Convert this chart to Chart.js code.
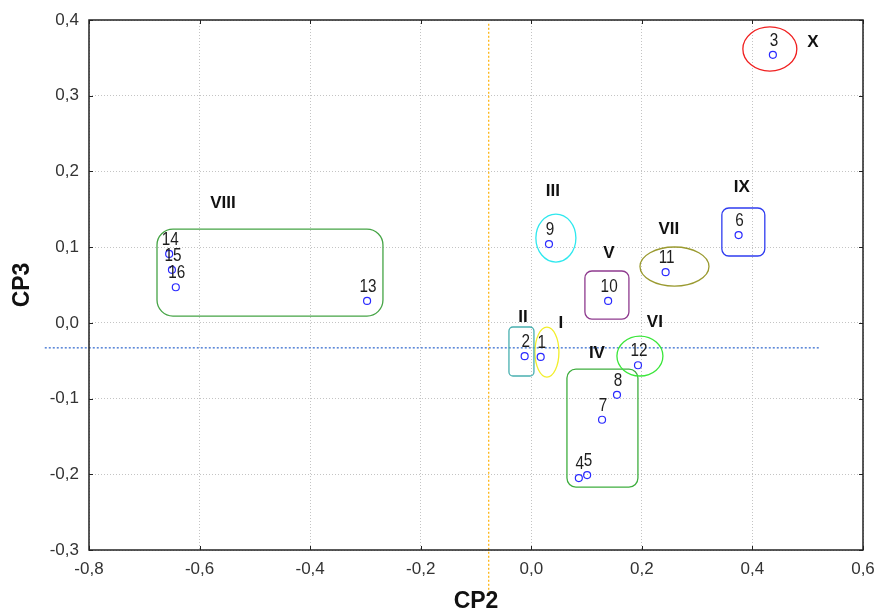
<!DOCTYPE html>
<html>
<head>
<meta charset="utf-8">
<title>CP2 x CP3</title>
<script src="https://cdn.jsdelivr.net/npm/chart.js@4/dist/chart.umd.min.js"></script>
<style>
  html, body { margin: 0; padding: 0; background: #ffffff; }
  #wrap { width: 877px; height: 613px; }
</style>
</head>
<body>
<div id="wrap"><canvas id="chart" width="877" height="613"></canvas></div>
<script>
// Sample numbers and their scores on the 2nd and 3rd principal components
const sampleIds = ['1','2','3','4','5','6','7','8','9','10','11','12','13','14','15','16'];
const cp2Scores = [0.017, -0.012, 0.437, 0.086, 0.101, 0.375, 0.128, 0.155, 0.032, 0.139, 0.243, 0.193, -0.297, -0.655, -0.650, -0.643];
const cp3Scores = [-0.045, -0.044, 0.354, -0.205, -0.201, 0.116, -0.128, -0.095, 0.104, 0.029, 0.067, -0.056, 0.029, 0.091, 0.070, 0.047];

// Axis ranges and tick steps
const xTicks = { min: -0.8, max: 0.6, step: 0.2 };
const yTicks = { min: -0.3, max: 0.4, step: 0.1 };

// Reference lines (mean of CP2, mean of CP3)
const meanCP2 = -0.077;
const meanCP3 = -0.033;

// Cluster outlines, in CP2/CP3 units
const groupOutlines = [
  { name: 'I',    shape: 'ellipse', cx: 0.0283, cy: -0.0386, rx: 0.0217, ry: 0.0330, color: '#f2ee2a', lx: 0.0536, ly: -0.0002 },
  { name: 'II',   shape: 'rect', x0: -0.0404, x1: 0.0048, y0: -0.0702, y1: -0.0055, r: 4, color: '#48b0b0', lx: -0.0150, ly: 0.0077 },
  { name: 'III',  shape: 'ellipse', cx: 0.0445, cy: 0.1120, rx: 0.0362, ry: 0.0317, color: '#2ee8ee', lx: 0.0391, ly: 0.1741 },
  { name: 'IV',   shape: 'rect', x0: 0.0645, x1: 0.1929, y0: -0.2169, y1: -0.0610, r: 9, color: '#3fae3f', lx: 0.1187, ly: -0.0399 },
  { name: 'V',    shape: 'rect', x0: 0.0970, x1: 0.1766, y0: 0.0050, y1: 0.0685, r: 7, color: '#8e3a8e', lx: 0.1404, ly: 0.0922 },
  { name: 'VI',   shape: 'ellipse', cx: 0.1965, cy: -0.0438, rx: 0.0416, ry: 0.0264, color: '#3ae63a', lx: 0.2236, ly: 0.0011 },
  { name: 'VII',  shape: 'ellipse', cx: 0.2590, cy: 0.0744, rx: 0.0624, ry: 0.0258, color: '#9a9a30', lx: 0.2489, ly: 0.1239 },
  { name: 'VIII', shape: 'rect', x0: -0.6770, x1: -0.2683, y0: 0.0090, y1: 0.1239, r: 16, color: '#45a445', lx: -0.5577, ly: 0.1583 },
  { name: 'IX',   shape: 'rect', x0: 0.3447, x1: 0.4224, y0: 0.0883, y1: 0.1517, r: 7, color: '#2f3cf0', lx: 0.3808, ly: 0.1794 },
  { name: 'X',    shape: 'ellipse', cx: 0.4315, cy: 0.3617, rx: 0.0488, ry: 0.0291, color: '#f02020', lx: 0.5093, ly: 0.3710 }
];

const points = sampleIds.map((id, i) => ({ x: cp2Scores[i], y: cp3Scores[i] }));
const fmt = v => v.toFixed(1).replace('.', ',').replace(/^-0,0$/, '0,0');

function roundRectPath(ctx, x, y, w, h, r) {
  r = Math.min(r, w / 2, h / 2);
  ctx.beginPath();
  ctx.moveTo(x + r, y);
  ctx.arcTo(x + w, y, x + w, y + h, r);
  ctx.arcTo(x + w, y + h, x, y + h, r);
  ctx.arcTo(x, y + h, x, y, r);
  ctx.arcTo(x, y, x + w, y, r);
  ctx.closePath();
}

// Reference lines and cluster outlines under the markers
const underlayPlugin = {
  id: 'underlay',
  beforeDatasetsDraw(chart) {
    const { ctx, scales: { x, y } } = chart;
    ctx.save();
    // mean lines
    ctx.lineWidth = 1.3;
    ctx.setLineDash([2, 2]);
    ctx.strokeStyle = '#3a6fd0';
    ctx.beginPath();
    ctx.moveTo(x.getPixelForValue(-0.88), y.getPixelForValue(meanCP3));
    ctx.lineTo(x.getPixelForValue(0.522), y.getPixelForValue(meanCP3));
    ctx.stroke();
    ctx.strokeStyle = '#ffb000';
    ctx.lineWidth = 1.2;
    ctx.beginPath();
    ctx.moveTo(x.getPixelForValue(meanCP2), y.getPixelForValue(0.395));
    ctx.lineTo(x.getPixelForValue(meanCP2), y.getPixelForValue(-0.356));
    ctx.stroke();
    ctx.setLineDash([]);

    // outlines
    ctx.lineWidth = 1.3;
    groupOutlines.forEach(g => {
      ctx.strokeStyle = g.color;
      if (g.shape === 'ellipse') {
        const cx = x.getPixelForValue(g.cx), cy = y.getPixelForValue(g.cy);
        const rx = Math.abs(x.getPixelForValue(g.cx + g.rx) - cx);
        const ry = Math.abs(y.getPixelForValue(g.cy + g.ry) - cy);
        ctx.beginPath();
        ctx.ellipse(cx, cy, rx, ry, 0, 0, Math.PI * 2);
        ctx.stroke();
      } else {
        const px0 = x.getPixelForValue(g.x0), px1 = x.getPixelForValue(g.x1);
        const py0 = y.getPixelForValue(g.y1), py1 = y.getPixelForValue(g.y0);
        roundRectPath(ctx, px0, py0, px1 - px0, py1 - py0, g.r);
        ctx.stroke();
      }
    });
    ctx.restore();
  }
};

// Frame, inner tick marks, sample numbers and cluster names
const overlayPlugin = {
  id: 'overlay',
  afterDatasetsDraw(chart) {
    const { ctx, chartArea: a, scales: { x, y } } = chart;
    ctx.save();
    // inner tick marks on all four sides
    ctx.strokeStyle = '#222';
    ctx.lineWidth = 1;
    ctx.beginPath();
    x.ticks.forEach(t => {
      const px = Math.round(x.getPixelForValue(t.value)) + 0.5;
      ctx.moveTo(px, a.bottom); ctx.lineTo(px, a.bottom - 4);
      ctx.moveTo(px, a.top); ctx.lineTo(px, a.top + 4);
    });
    y.ticks.forEach(t => {
      const py = Math.round(y.getPixelForValue(t.value)) + 0.5;
      ctx.moveTo(a.left, py); ctx.lineTo(a.left + 4, py);
      ctx.moveTo(a.right, py); ctx.lineTo(a.right - 4, py);
    });
    ctx.stroke();
    // frame
    ctx.lineWidth = 1.5;
    ctx.strokeStyle = '#222';
    ctx.strokeRect(a.left, a.top, a.right - a.left, a.bottom - a.top);

    // sample numbers above each marker
    ctx.fillStyle = '#1e1e1e';
    ctx.font = '18px "Liberation Sans", Arial, sans-serif';
    ctx.textAlign = 'center';
    ctx.textBaseline = 'middle';
    points.forEach((p, i) => {
      const px = x.getPixelForValue(p.x), py = y.getPixelForValue(p.y);
      ctx.save();
      ctx.translate(px + 1, py - 14);
      ctx.scale(0.85, 1);
      ctx.fillText(sampleIds[i], 0, 0);
      ctx.restore();
    });

    // cluster names
    ctx.fillStyle = '#111';
    ctx.font = 'bold 17px "Liberation Sans", Arial, sans-serif';
    groupOutlines.forEach(g => {
      ctx.fillText(g.name, x.getPixelForValue(g.lx), y.getPixelForValue(g.ly));
    });
    ctx.restore();
  }
};

new Chart(document.getElementById('chart'), {
  type: 'scatter',
  data: {
    datasets: [{
      label: 'CP2 x CP3',
      data: points,
      pointRadius: 3.5,
      pointHoverRadius: 3.5,
      pointBorderWidth: 1.2,
      pointBorderColor: '#2a2aff',
      pointBackgroundColor: 'rgba(0,0,0,0)',
      showLine: false
    }]
  },
  options: {
    responsive: false,
    animation: false,
    events: [],
    layout: { padding: { top: 20, right: 14, left: 0, bottom: 0 } },
    plugins: { legend: { display: false }, tooltip: { enabled: false } },
    scales: {
      x: {
        type: 'linear',
        min: xTicks.min, max: xTicks.max,
        afterFit(scale) { scale.height = 63; scale.paddingLeft = 0; scale.paddingRight = 0; },
        ticks: {
          stepSize: xTicks.step,
          padding: 9,
          color: '#333',
          font: { family: '"Liberation Sans", Arial, sans-serif', size: 17 },
          callback: v => fmt(v)
        },
        grid: { color: '#c4c4c4', lineWidth: 1, drawTicks: false },
        border: { display: false, dash: [1, 2] },
        title: {
          display: true, text: 'CP2', color: '#111',
          font: { family: '"Liberation Sans", Arial, sans-serif', size: 23, weight: 'bold', lineHeight: 1 },
          padding: { top: 0, bottom: 0 }
        }
      },
      y: {
        type: 'linear',
        min: yTicks.min, max: yTicks.max,
        afterFit(scale) { scale.width = 89; scale.paddingTop = 0; scale.paddingBottom = 0; },
        ticks: {
          stepSize: yTicks.step,
          padding: 10,
          color: '#333',
          font: { family: '"Liberation Sans", Arial, sans-serif', size: 17 },
          callback: v => fmt(v)
        },
        grid: { color: '#c4c4c4', lineWidth: 1, drawTicks: false },
        border: { display: false, dash: [1, 2] },
        title: {
          display: true, text: 'CP3', color: '#111',
          font: { family: '"Liberation Sans", Arial, sans-serif', size: 23, weight: 'bold', lineHeight: 1 },
          padding: { top: 11.5, bottom: 0 }
        }
      }
    }
  },
  plugins: [underlayPlugin, overlayPlugin]
});
</script>
</body>
</html>
